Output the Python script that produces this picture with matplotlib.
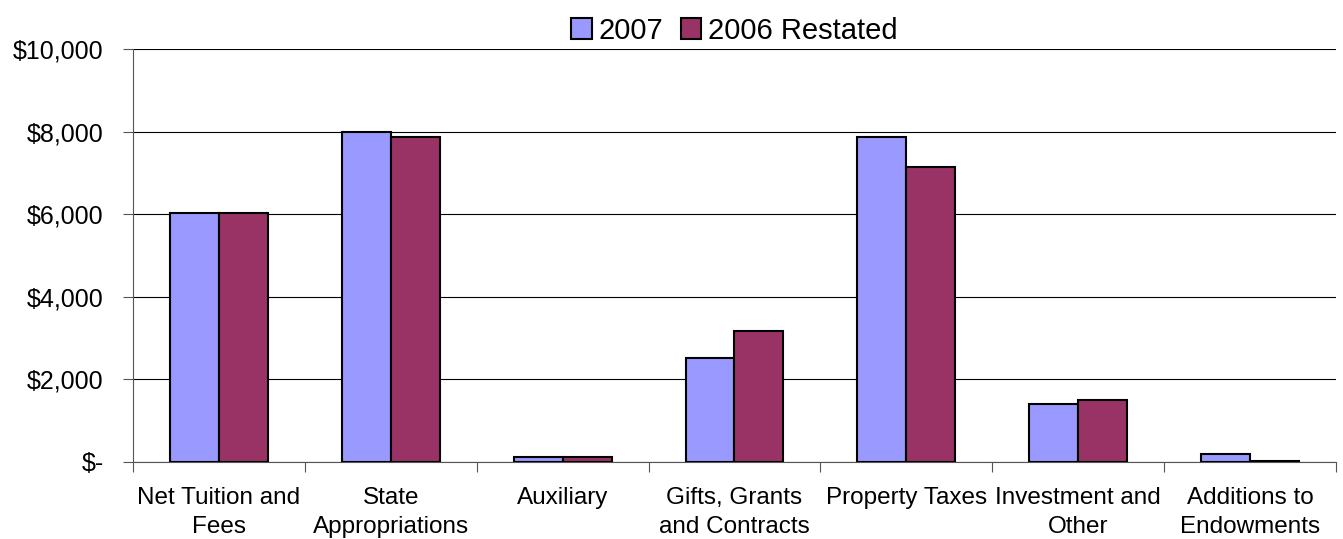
import matplotlib.pyplot as plt
import numpy as np
from matplotlib.ticker import FuncFormatter

plt.rcParams['font.family'] = ['Liberation Sans', 'DejaVu Sans']

categories = ["Net Tuition and\nFees", "State\nAppropriations", "Auxiliary",
              "Gifts, Grants\nand Contracts", "Property Taxes", "Investment and\nOther",
              "Additions to\nEndowments"]
vals_2007 = [6040, 7980, 110, 2510, 7860, 1410, 190]
vals_2006 = [6040, 7870, 120, 3170, 7140, 1500, 20]

fig = plt.figure(figsize=(13.43, 5.39), dpi=100)
ax = fig.add_axes([0.099, 0.143, 0.8958, 0.766])

x = np.arange(len(categories))
w = 0.285
ax.bar(x - w / 2, vals_2007, w, color='#9999FF', edgecolor='black', linewidth=1.5, label='2007', zorder=3)
ax.bar(x + w / 2, vals_2006, w, color='#993366', edgecolor='black', linewidth=1.5, label='2006 Restated', zorder=3)

ax.set_xlim(-0.5, len(categories) - 0.5)
ax.set_ylim(0, 10000)
ax.set_yticks(np.arange(0, 10001, 2000))
ax.yaxis.set_major_formatter(FuncFormatter(lambda v, p: "$-" if v == 0 else "${:,.0f}".format(v)))
ax.yaxis.grid(True, color='black', linewidth=0.8, zorder=0)

ax.set_xticks(np.arange(-0.5, len(categories), 1))
ax.set_xticklabels([])
ax.set_xticks(x, minor=True)
ax.set_xticklabels(categories, minor=True, fontsize=17.5, linespacing=1.4)
ax.tick_params(axis='x', which='minor', length=0, pad=18)
ax.tick_params(axis='x', which='major', length=7, color='#555555', direction='out')
ax.tick_params(axis='y', length=7, color='#555555', labelsize=18, pad=14)

ax.spines['top'].set_visible(False)
ax.spines['right'].set_visible(False)
ax.spines['left'].set_color('#555555')
ax.spines['bottom'].set_color('#555555')

ax.legend(loc='lower center', bbox_to_anchor=(0.5, 1.0), ncol=2, frameon=False,
          fontsize=21, handlelength=0.69, handleheight=0.69, handletextpad=0.25,
          columnspacing=0.58, borderaxespad=0.05, borderpad=0.1)

fig.savefig('out.png', dpi=100)
